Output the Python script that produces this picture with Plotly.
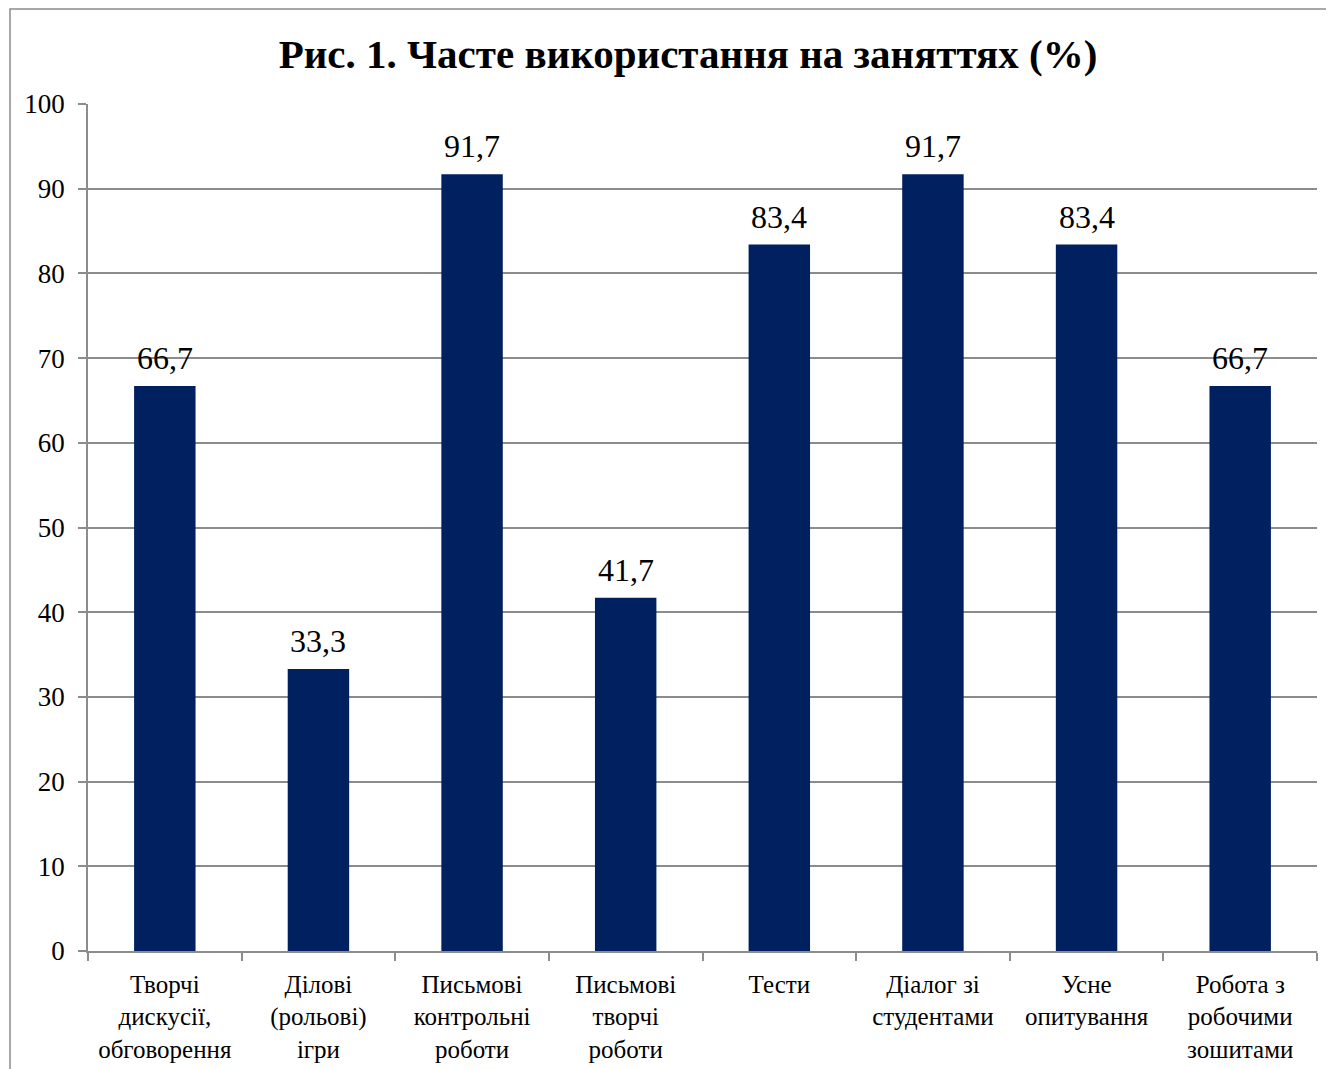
import plotly.graph_objects as go

categories = [
    "Творчі<br>дискусії,<br>обговорення",
    "Ділові<br>(рольові)<br>ігри",
    "Письмові<br>контрольні<br>роботи",
    "Письмові<br>творчі<br>роботи",
    "Тести",
    "Діалог зі<br>студентами",
    "Усне<br>опитування",
    "Робота з<br>робочими<br>зошитами",
]
values = [66.7, 33.3, 91.7, 41.7, 83.4, 91.7, 83.4, 66.7]
y_ticks = [0, 10, 20, 30, 40, 50, 60, 70, 80, 90, 100]
title_text = "Рис. 1. Часте використання на заняттях (%)"

labels = [f"{v:.1f}".replace(".", ",") for v in values]

# page body has an 8px margin, so the figure is sized/offset to compensate
W, H = 1326, 1061
ml, mr, mt, mb = 80, 17, 96, 118
pw, ph = W - ml - mr, H - mt - mb

FONT = "Liberation Serif, Times New Roman, serif"
GRID = "#8c8c8c"

fig = go.Figure(go.Bar(
    x=categories, y=values,
    marker=dict(color="#002060", line=dict(width=0)),
    width=0.4,
))

for c, v, t in zip(categories, values, labels):
    fig.add_annotation(x=c, y=v, text=t, showarrow=False, yanchor="bottom",
                       yshift=8, font=dict(family=FONT, size=32, color="black"))

fig.update_layout(
    width=W, height=H,
    margin=dict(l=ml, r=mr, t=mt, b=mb),
    paper_bgcolor="white", plot_bgcolor="white",
    showlegend=False,
    font=dict(family=FONT, color="black"),
    title=dict(text="<b>" + title_text + "</b>", font=dict(family=FONT, size=41, color="black"),
               x=680 / W, xanchor="center", y=1 - 46 / H, yanchor="middle"),
)
fig.update_yaxes(
    range=[0, 100], tickvals=y_ticks, showgrid=True, gridcolor=GRID, gridwidth=1.5,
    showline=True, linecolor=GRID, linewidth=1.5, ticks="outside", ticklen=8,
    tickcolor=GRID, tickwidth=1.5, tickfont=dict(family=FONT, size=27, color="black"),
    ticklabelstandoff=8, zeroline=False, automargin=False,
)
fig.update_xaxes(
    showline=True, linecolor=GRID, linewidth=1.5, ticks="outside", ticklen=8,
    tickcolor=GRID, tickwidth=1.5, tickson="boundaries",
    tickfont=dict(family=FONT, size=25, color="black"), tickangle=0,
    ticklabelstandoff=10, automargin=False,
)
# outer chart border (partially outside page)
fig.add_shape(type="rect", xref="paper", yref="paper",
              x0=(2 - ml) / pw, x1=1.2, y0=-0.3, y1=(H - mb - 1) / ph,
              line=dict(color="#8c8c8c", width=1.5), fillcolor="rgba(0,0,0,0)", layer="below")

fig.write_html("out.html")
